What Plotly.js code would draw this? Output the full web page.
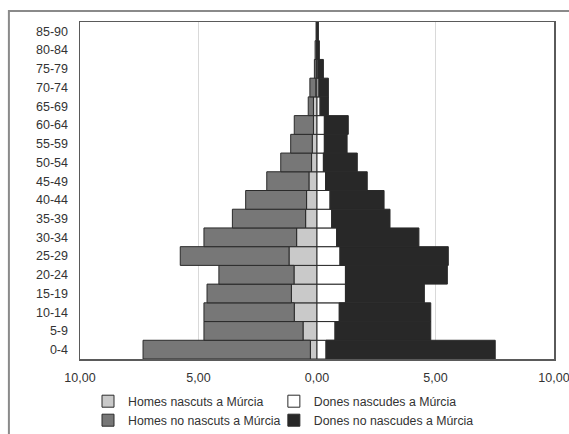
<!DOCTYPE html>
<html>
<head>
<meta charset="utf-8">
<script src="https://cdn.plot.ly/plotly-3.0.1.min.js"></script>
<style>
html,body{margin:0;padding:0;background:#fff;}
#chart{width:569px;height:434px;}
</style>
</head>
<body>
<div id="chart"></div>
<script>
// Age groups, bottom to top
var ages = ["0-4","5-9","10-14","15-19","20-24","25-29","30-34","35-39","40-44","45-49","50-54","55-59","60-64","65-69","70-74","75-79","80-84","85-90"];

// Percent of population
var menBorn    = [0.28,0.59,0.96,1.08,0.97,1.18,0.86,0.48,0.44,0.34,0.23,0.20,0.15,0.15,0.05,0.03,0.02,0.01];
var menNotBorn = [7.06,4.18,3.81,3.56,3.17,4.59,3.91,3.09,2.57,1.78,1.30,0.91,0.81,0.22,0.25,0.08,0.06,0.03];
var womenBorn    = [0.38,0.76,0.94,1.20,1.20,0.97,0.83,0.62,0.55,0.36,0.27,0.31,0.31,0.13,0.08,0.04,0.02,0.01];
var womenNotBorn = [7.14,4.04,3.86,3.33,4.30,4.57,3.47,2.46,2.28,1.76,1.43,0.96,1.01,0.35,0.40,0.23,0.08,0.05];

var xTickVals = [-10,-5,0,5,10];
var xTickText = ["10,00","5,00","0,00","5,00","10,00"];

var names = ["Homes nascuts a Múrcia","Dones nascudes a Múrcia","Homes no nascuts a Múrcia","Dones no nascudes a Múrcia"];

function neg(a){ return a.map(function(v){ return -v; }); }

var outline = {color:'#2a2a2a', width:1};
var traces = [
  {type:'bar', orientation:'h', name:names[0], legend:'legend', y:ages, x:neg(menBorn), marker:{color:'#c9c9c9', line:outline}},
  {type:'bar', orientation:'h', name:names[1], legend:'legend2', y:ages, x:womenBorn, marker:{color:'#ffffff', line:outline}},
  {type:'bar', orientation:'h', name:names[2], legend:'legend', y:ages, x:neg(menNotBorn), marker:{color:'#777777', line:outline}},
  {type:'bar', orientation:'h', name:names[3], legend:'legend2', y:ages, x:womenNotBorn, marker:{color:'#282828', line:outline}}
];

var legendBase = {
  orientation:'v', xref:'paper', yref:'container', xanchor:'left', yanchor:'top', y:0.109,
  bgcolor:'rgba(0,0,0,0)', font:{size:12.3, color:'#333'}, traceorder:'normal',
  itemwidth:30, tracegroupgap:0
};

var layout = {
  width:569, height:434,
  margin:{l:80, r:15, t:22, b:75},
  paper_bgcolor:'#ffffff', plot_bgcolor:'#ffffff',
  barmode:'relative', bargap:0,
  font:{family:'"Liberation Sans", Arial, sans-serif', size:12, color:'#333'},
  showlegend:true,
  hovermode:false,
  xaxis:{
    range:[-10,10], tickvals:xTickVals, ticktext:xTickText,
    showgrid:true, gridcolor:'#d9d9d9', gridwidth:1,
    zeroline:false, showline:true, mirror:true, linecolor:'#5a5a5a', linewidth:1.5,
    ticks:'', ticklabelstandoff:6, ticklabeloverflow:'allow',
    tickfont:{size:12.5, color:'#333'}
  },
  yaxis:{
    type:'category', categoryorder:'array', categoryarray:ages,
    showgrid:false, zeroline:false, showline:true, mirror:true, linecolor:'#5a5a5a', linewidth:1.5,
    ticks:'', ticklabelstandoff:8,
    tickfont:{size:12.5, color:'#333'}
  },
  legend: Object.assign({}, legendBase, {x:0.0169}),
  legend2: Object.assign({}, legendBase, {x:0.409}),
  shapes:[
    {type:'rect', xref:'paper', yref:'paper', x0:-0.15, x1:1.2, y0:-0.4, y1:1.033,
     line:{color:'#8a8a8a', width:2}, fillcolor:'rgba(0,0,0,0)', layer:'below'}
  ]
};

Plotly.newPlot('chart', traces, layout, {displayModeBar:false, staticPlot:true});
</script>
</body>
</html>
